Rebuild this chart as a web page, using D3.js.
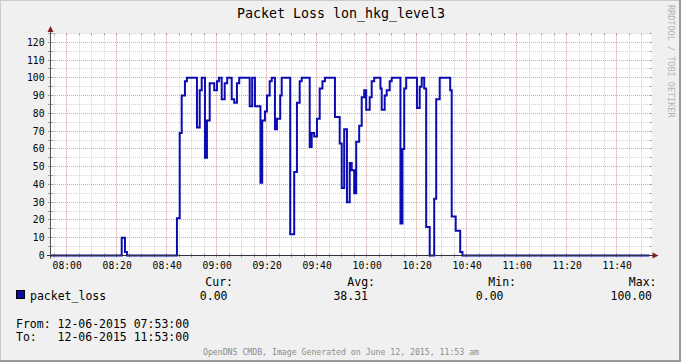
<!DOCTYPE html>
<html>
<head>
<meta charset="utf-8">
<script src="https://cdn.jsdelivr.net/npm/d3@7"></script>
<style>
  body { margin: 0; background: #f0f0f0; }
  svg { display: block; }
  text { font-family: "DejaVu Sans Mono", monospace; white-space: pre; }
</style>
</head>
<body>
<svg width="681" height="362"></svg>
<script>
// Data: times where the step line changes, and its new value
const stepTimes = [
  "07:53:00", "08:22:00", "08:23:18", "08:24:06", "08:44:06", "08:45:12", "08:46:00", "08:47:18",
  "08:48:06", "08:52:06", "08:53:12", "08:54:00", "08:55:18", "08:56:06", "08:57:12", "08:59:00",
  "09:00:06", "09:00:54", "09:02:00", "09:03:12", "09:04:12", "09:06:00", "09:07:00", "09:08:06",
  "09:09:00", "09:13:12", "09:14:12", "09:15:18", "09:17:30", "09:18:12", "09:19:18", "09:20:06",
  "09:21:12", "09:22:00", "09:23:18", "09:24:06", "09:25:24", "09:26:00", "09:29:24", "09:31:00",
  "09:32:06", "09:33:12", "09:34:00", "09:37:12", "09:38:00", "09:39:00", "09:40:06", "09:41:12",
  "09:42:18", "09:43:18", "09:47:18", "09:49:12", "09:50:00", "09:51:00", "09:52:06", "09:53:12",
  "09:54:00", "09:55:00", "09:55:48", "09:57:00", "09:58:00", "09:59:00", "09:59:48", "10:01:12",
  "10:02:00", "10:03:00", "10:05:30", "10:06:00", "10:07:12", "10:08:00", "10:09:12", "10:10:00",
  "10:13:30", "10:14:18", "10:15:00", "10:15:48", "10:20:06", "10:21:12", "10:22:00", "10:23:00",
  "10:23:48", "10:25:12", "10:27:00", "10:27:48", "10:29:12", "10:33:24", "10:34:00", "10:35:36",
  "10:37:24", "10:38:18", "11:53:00"
];
const lossValues = [
  0, 10, 2, 0, 21, 69, 90, 98,
  100, 72, 93, 100, 55, 76, 97, 93,
  98, 100, 88, 97, 100, 88, 86, 97,
  100, 84, 100, 84, 41, 76, 81, 90,
  98, 100, 71, 77, 90, 100, 12, 47,
  86, 98, 100, 61, 69, 67, 77, 94,
  98, 100, 78, 63, 38, 71, 30, 52,
  48, 35, 64, 73, 89, 93, 82, 89,
  98, 100, 94, 82, 90, 93, 98, 100,
  18, 60, 94, 100, 83, 95, 100, 94,
  16, 0, 32, 88, 100, 93, 22, 14,
  2, 0, 0
];

// Axis labels
const timeLabels = ["08:00", "08:20", "08:40", "09:00", "09:20", "09:40", "10:00", "10:20", "10:40", "11:00", "11:20", "11:40"];
const yLabels = [0, 10, 20, 30, 40, 50, 60, 70, 80, 90, 100, 110, 120];

// Legend texts
const seriesName = "packet_loss";
const legendHeaders = ["Cur:", "Avg:", "Min:", "Max:"];
const legendValues = ["0.00", "38.31", "0.00", "100.00"];

const svg = d3.select("svg");
const W = 681, H = 362;
const parseTime = d3.timeParse("%H:%M:%S");
const parseHM = d3.timeParse("%H:%M");

const plotLeft = 51, plotRight = 651.5, plotTop = 33.3, plotBottom = 255.5;
const lineColor = "#0c0cb0";

// Scales
const x = d3.scaleTime()
  .domain([parseTime("07:53:00"), parseTime("11:53:00")])
  .range([49.2, 649.2]);
const y = d3.scaleLinear()
  .domain([0, 125])
  .range([255.5, 33.4]);
const snap = v => Math.floor(v) + 0.5;

// Background and shaded border
svg.append("rect").attr("width", W).attr("height", H).attr("fill", "#f0f0f0");
svg.append("path").attr("d", `M0,${H} V0 H${W}`).attr("fill", "none")
  .attr("stroke", "#cbcbcb").attr("stroke-width", 2);
svg.append("path").attr("d", `M0,${H - 1} H${W - 1} V0`).attr("fill", "none")
  .attr("stroke", "#999999").attr("stroke-width", 2);

// Canvas
svg.append("rect")
  .attr("x", plotLeft).attr("y", plotTop)
  .attr("width", plotRight - plotLeft).attr("height", plotBottom - plotTop)
  .attr("fill", "#ffffff");

// Minor grid
const grid = svg.append("g");
const minorTimes = d3.timeMinute.every(5).range(x.domain()[0], x.domain()[1]);
grid.selectAll(".vmin").data(minorTimes).enter().append("line")
  .attr("x1", d => snap(x(d))).attr("x2", d => snap(x(d)))
  .attr("y1", plotTop).attr("y2", plotBottom)
  .attr("stroke", "#d4d4d4").attr("stroke-dasharray", "1,1");
grid.selectAll(".hmin").data(d3.range(5, 126, 5)).enter().append("line")
  .attr("x1", plotLeft).attr("x2", plotRight)
  .attr("y1", d => snap(y(d))).attr("y2", d => snap(y(d)))
  .attr("stroke", "#d4d4d4").attr("stroke-dasharray", "1,1");

// Major grid
grid.selectAll(".vmaj").data(timeLabels).enter().append("line")
  .attr("x1", d => snap(x(parseHM(d)))).attr("x2", d => snap(x(parseHM(d))))
  .attr("y1", plotTop).attr("y2", plotBottom)
  .attr("stroke", "#eaa4a4").attr("stroke-dasharray", "1,1");
grid.selectAll(".hmaj").data(yLabels.filter(d => d > 0)).enter().append("line")
  .attr("x1", plotLeft).attr("x2", plotRight)
  .attr("y1", d => snap(y(d))).attr("y2", d => snap(y(d)))
  .attr("stroke", "#eaa4a4").attr("stroke-dasharray", "1,1");

// Small ticks on the grid ends
grid.selectAll(".vtick").data(minorTimes).enter().append("path")
  .attr("d", d => `M${snap(x(d))},${plotTop} v2 M${snap(x(d))},${plotBottom - 2} v4`)
  .attr("stroke", "#a0a0a0");
grid.selectAll(".htick").data(d3.range(5, 126, 5)).enter().append("path")
  .attr("d", d => `M${plotLeft - 3},${snap(y(d))} h5 M${plotRight - 2},${snap(y(d))} h2`)
  .attr("stroke", "#a0a0a0");

// Packet loss step line
const points = stepTimes.map((t, i) => ({ t: parseTime(t), v: lossValues[i] }));
svg.append("clipPath").attr("id", "clip").append("rect")
  .attr("x", plotLeft).attr("y", 20).attr("width", plotRight - plotLeft).attr("height", 240);
svg.append("path")
  .datum(points)
  .attr("clip-path", "url(#clip)")
  .attr("fill", "none")
  .attr("stroke", lineColor)
  .attr("stroke-width", 2)
  .attr("d", d3.line().x(d => x(d.t)).y(d => y(d.v)).curve(d3.curveStepAfter));

// Axes and arrows
svg.append("line").attr("x1", 50.5).attr("x2", 50.5).attr("y1", plotBottom + 3).attr("y2", 30)
  .attr("stroke", "#505050");
svg.append("line").attr("x1", 47).attr("x2", 654).attr("y1", plotBottom).attr("y2", plotBottom)
  .attr("stroke", "#303040");
svg.append("path").attr("d", "M50.5,26 L47.5,32 L53.5,32 Z").attr("fill", "#7f1f1f");
svg.append("path").attr("d", "M658.5,255.5 L652.5,252.5 L652.5,258.5 Z").attr("fill", "#7f1f1f");

// Title
svg.append("text")
  .attr("x", 341).attr("y", 18)
  .attr("text-anchor", "middle")
  .style("font-size", "13.3px")
  .text("Packet Loss lon_hkg_level3");

// Y labels
svg.selectAll(".ylab").data(yLabels).enter().append("text")
  .attr("x", 44.5).attr("y", d => y(d) + 3.5)
  .attr("text-anchor", "end")
  .style("font-size", "9.7px")
  .text(d => d);

// X labels
svg.selectAll(".xlab").data(timeLabels).enter().append("text")
  .attr("x", d => x(parseHM(d)) + 0.5).attr("y", 268.5)
  .attr("text-anchor", "middle")
  .style("font-size", "9.7px")
  .text(d => d);

// Legend
const headerX = [233, 375, 516, 656.5];
const valueX = [227.5, 368, 503.5, 652];
svg.selectAll(".lhead").data(legendHeaders).enter().append("text")
  .attr("x", (d, i) => headerX[i]).attr("y", 286)
  .attr("text-anchor", "end")
  .style("font-size", "11.5px")
  .text(d => d);
svg.append("rect")
  .attr("x", 16.5).attr("y", 290.5).attr("width", 8).attr("height", 8)
  .attr("fill", lineColor).attr("stroke", "#000");
svg.append("text")
  .attr("x", 30).attr("y", 299.5)
  .style("font-size", "11.5px")
  .text(seriesName);
svg.selectAll(".lval").data(legendValues).enter().append("text")
  .attr("x", (d, i) => valueX[i]).attr("y", 299.5)
  .attr("text-anchor", "end")
  .style("font-size", "11.5px")
  .text(d => d);

// Period
svg.append("text").attr("x", 16).attr("y", 327.5).style("font-size", "11.5px")
  .text("From: 12-06-2015 07:53:00");
svg.append("text").attr("x", 16).attr("y", 341).style("font-size", "11.5px")
  .text("To:   12-06-2015 11:53:00");

// Footer and watermark
svg.append("text")
  .attr("x", 341).attr("y", 354.5)
  .attr("text-anchor", "middle")
  .style("font-size", "8.2px")
  .attr("fill", "#8c8c8c")
  .text("OpenDNS CMDB, Image Generated on June 12, 2015, 11:53 am");
svg.append("text")
  .attr("transform", "translate(668,5) rotate(90)")
  .style("font-size", "8.5px")
  .attr("fill", "#b4b4b4")
  .text("RRDTOOL / TOBI OETIKER");
</script>
</body>
</html>
